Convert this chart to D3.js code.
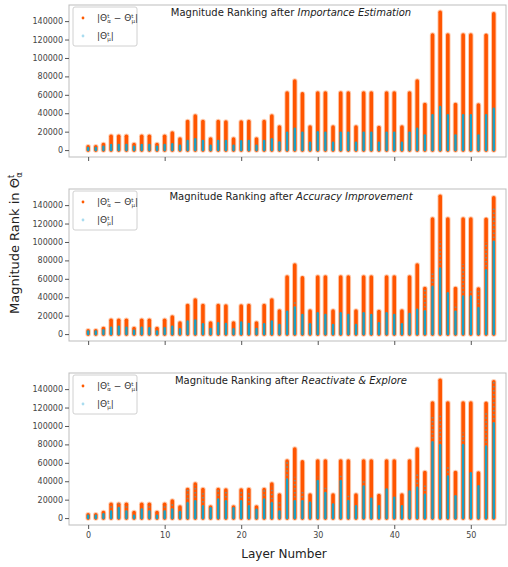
<!DOCTYPE html>
<html>
<head>
<meta charset="utf-8">
<script src="https://cdn.jsdelivr.net/npm/d3@7"></script>
<style>
  body { margin: 0; background: #fff; }
  svg { font-family: "DejaVu Sans", sans-serif; }
</style>
</head>
<body>
<div id="chart"></div>
<script>
// layer index on the x axis
const layers = d3.range(54);

// orange: rank range of |theta_a - theta_mu| per layer (same for all panels)
const layerSize = [3500,3500,6000,15000,15000,15000,6000,15000,15000,6000,15000,18500,12000,31000,37000,31000,12000,31000,30500,12000,
  30500,31000,12000,31000,37000,25000,62000,75000,61000,25000,62000,62000,25000,62000,62000,25000,62000,62000,24500,62000,
  62000,25000,62000,75000,49500,125000,149500,125000,49500,125000,125000,49000,124500,148000];

// cyan dense part (k) per panel
const coreP1 = [2.2,2.2,3.6,5.7,5.7,5.7,3.6,5.7,5.7,3.6,5.7,6.5,4.7,10,11.8,10,4.7,10,10,4.7,
  9.7,10,4.7,10,11.8,8.3,19,23.3,19,8,19.4,19,8,19,19,8,19,19,8,19,
  19,8,19,23.3,16,38,46.7,38,16,38,38,16,38,45];
const coreP2 = [2.9,2.9,4.3,7,8,7,3.6,7,6.5,2.9,6.5,8,5.4,13.6,14.7,10.8,5.7,11.8,11,5.4,
  12.6,11,5.7,10.8,13.6,10,24.4,28.7,20.8,10.8,22.6,20.8,10,22.6,20.8,10,22.6,20.8,11.8,22.6,
  20.8,10.8,21.9,26.2,24.4,51,71,44,24,40.6,40.6,28,69,100];
const coreP3 = [2.5,2.5,4.3,7,10.8,7,2.5,9,7,2.5,7,9,6.3,16,18,12.6,10.8,20,18,10.8,
  18,12.6,9,20,16,7,41.6,18,18,16.5,40,27,14.7,40,18.3,13,34,21,13,31,
  22,13,29,32.7,25,82,79,45,23.7,79,48.8,34.5,77.5,102.7];

// cyan scattered points reach up to (k), 0 = none
const spreadP1 = new Array(54).fill(0);
const spreadP2 = [0,0,0,0,0,0,0,0,0,0,0,0,0,0,0,0,0,0,0,0,
  0,0,0,0,0,0,0,36,0,0,0,0,0,0,0,0,0,0,0,0,
  0,0,0,28,50,67.5,102,46,33,76,47.8,49.5,100,137];
const spreadP3 = [0,0,0,14,16,14,0,13.5,14,0,14,16,11,31,36,27,0,31,31,0,
  31,27,0,31,34,18,63,45,31,18,45,35,0,48,27,0,41.6,0,0,0,
  0,0,0,48,36,110,112,56,0,93,0,0,115,149];

const titles = [["Magnitude Ranking after ", "Importance Estimation"],
                ["Magnitude Ranking after ", "Accuracy Improvement"],
                ["Magnitude Ranking after ", "Reactivate & Explore"]];
const yTicks = [0,20000,40000,60000,80000,100000,120000,140000];
const xTicks = [0,10,20,30,40,50];

const panels = [
  {core: coreP1, spread: spreadP1},
  {core: coreP2, spread: spreadP2},
  {core: coreP3, spread: spreadP3}
];

const width = 508, height = 567;
const left = 69, right = 506;
const tops = [5, 189, 373];
const ph = 152;

const svg = d3.select("#chart").append("svg")
  .attr("width", width).attr("height", height);

const x = d3.scaleLinear().domain([-2.5, 54.6]).range([left, right]);

panels.forEach((p, k) => {
  const top = tops[k];
  const y = d3.scaleLinear().domain([-7500, 157500]).range([top + ph, top]);
  const g = svg.append("g");

  // frame
  g.append("rect")
    .attr("x", left).attr("y", top).attr("width", right - left).attr("height", ph)
    .attr("fill", "none").attr("stroke", "#bdbdbd").attr("stroke-width", 1);

  // orange halo + core
  g.append("g").selectAll("line").data(layers).join("line")
    .attr("x1", d => x(d)).attr("x2", d => x(d))
    .attr("y1", y(0)).attr("y2", d => y(layerSize[d]))
    .attr("stroke", "#ffcdb0").attr("stroke-width", 5.5).attr("stroke-linecap", "round");
  g.append("g").selectAll("line").data(layers).join("line")
    .attr("x1", d => x(d)).attr("x2", d => x(d))
    .attr("y1", y(0)).attr("y2", d => y(layerSize[d]))
    .attr("stroke", "#ff5500").attr("stroke-width", 3.6).attr("stroke-linecap", "round");

  // cyan scattered region
  g.append("g").selectAll("line").data(layers.filter(d => p.spread[d] > 0)).join("line")
    .attr("x1", d => x(d)).attr("x2", d => x(d))
    .attr("y1", d => y(p.core[d] * 1000)).attr("y2", d => y(p.spread[d] * 1000))
    .attr("stroke", "#4e9fb3").attr("stroke-width", 1.8).attr("opacity", 0.75)
    .attr("stroke-dasharray", "1.5 2.5");

  // cyan dense part
  g.append("g").selectAll("line").data(layers).join("line")
    .attr("x1", d => x(d)).attr("x2", d => x(d))
    .attr("y1", y(0)).attr("y2", d => y(p.core[d] * 1000))
    .attr("stroke", "#16a2c8").attr("stroke-width", 2.4).attr("stroke-linecap", "round");

  // y axis
  const ya = g.append("g").attr("transform", `translate(${left},0)`)
    .call(d3.axisLeft(y).tickValues(yTicks).tickSize(4).tickPadding(2).tickFormat(d3.format("d")));
  ya.select(".domain").remove();
  ya.selectAll("line").attr("stroke", "#555");
  ya.selectAll("text").attr("font-size", 8).attr("fill", "#444").attr("font-family", "DejaVu Sans");

  // x axis
  const xa = g.append("g").attr("transform", `translate(0,${top + ph})`)
    .call(d3.axisBottom(x).tickValues(xTicks).tickSize(4).tickPadding(3)
      .tickFormat(k === 2 ? d3.format("d") : () => ""));
  xa.select(".domain").remove();
  xa.selectAll("line").attr("stroke", "#555");
  xa.selectAll("text").attr("font-size", 8).attr("fill", "#444").attr("font-family", "DejaVu Sans");

  // title
  const t = g.append("text").attr("x", 291).attr("y", top + 11)
    .attr("text-anchor", "middle").attr("font-size", 10).attr("fill", "#222");
  t.append("tspan").text(titles[k][0]);
  t.append("tspan").attr("font-style", "italic").text(titles[k][1]);

  // legend
  const lg = g.append("g").attr("transform", `translate(73,${top + 2})`);
  lg.append("rect").attr("width", 64).attr("height", 39).attr("rx", 2)
    .attr("fill", "#fff").attr("fill-opacity", 0.85).attr("stroke", "#d0d0d0");
  lg.append("circle").attr("cx", 10).attr("cy", 11).attr("r", 1.4).attr("fill", "#ff5a00");
  lg.append("circle").attr("cx", 10).attr("cy", 29).attr("r", 1.4).attr("fill", "#a9dcef");
  const l1 = lg.append("text").attr("x", 24).attr("y", 14).attr("font-size", 9).attr("fill", "#333");
  l1.append("tspan").text("|Θ");
  l1.append("tspan").attr("font-size", 5.5).attr("dy", -3.5).text("t");
  l1.append("tspan").attr("font-size", 5.5).attr("dx", -2).attr("dy", 5.5).text("α");
  l1.append("tspan").attr("dy", -2).text(" − Θ");
  l1.append("tspan").attr("font-size", 5.5).attr("dy", -3.5).text("t");
  l1.append("tspan").attr("font-size", 5.5).attr("dx", -2).attr("dy", 5.5).text("μ");
  l1.append("tspan").attr("dy", -2).text("|");
  const l2 = lg.append("text").attr("x", 24).attr("y", 32).attr("font-size", 9).attr("fill", "#333");
  l2.append("tspan").text("|Θ");
  l2.append("tspan").attr("font-size", 5.5).attr("dy", -3.5).text("t");
  l2.append("tspan").attr("font-size", 5.5).attr("dx", -2).attr("dy", 5.5).text("μ");
  l2.append("tspan").attr("dy", -2).text("|");
});

// shared axis labels
svg.append("text").attr("x", 284).attr("y", 558).attr("text-anchor", "middle")
  .attr("font-size", 12).attr("fill", "#222").text("Layer Number");

const yl = svg.append("text").attr("transform", "translate(19,243) rotate(-90)")
  .attr("text-anchor", "middle").attr("font-size", 13).attr("fill", "#222");
yl.append("tspan").text("Magnitude Rank in Θ");
yl.append("tspan").attr("font-size", 8.5).attr("dy", -5.5).text("t");
yl.append("tspan").attr("font-size", 8.5).attr("dx", -3).attr("dy", 8.5).text("α");
</script>
</body>
</html>
